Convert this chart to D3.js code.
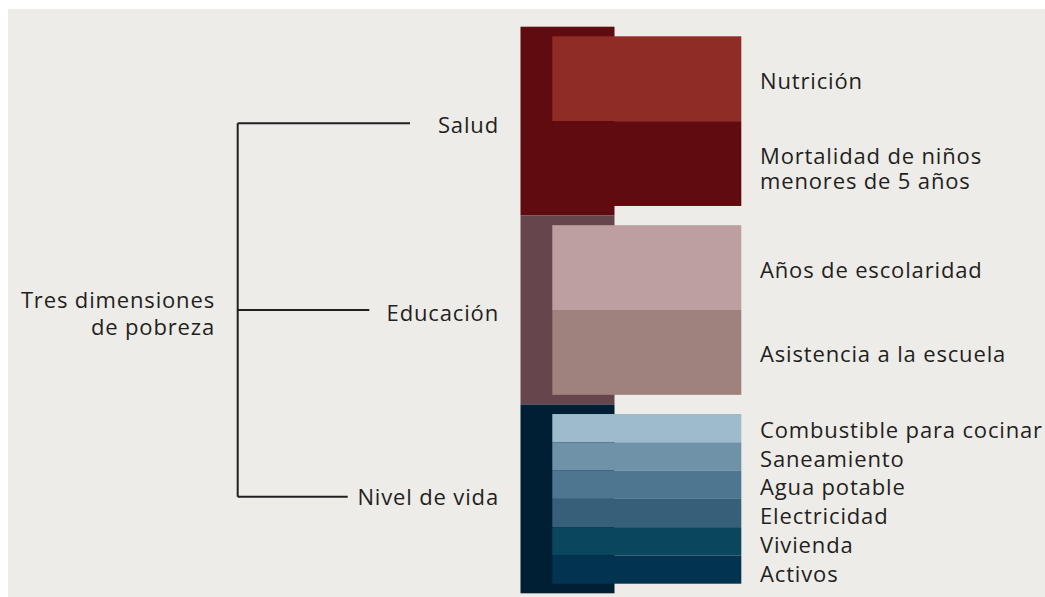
<!DOCTYPE html>
<html>
<head>
<meta charset="utf-8">
<script src="https://cdn.jsdelivr.net/npm/d3@7"></script>
<style>
  html, body { margin: 0; padding: 0; background: #ffffff; }
  svg { display: block; }
  text { font-family: "Open Sans", Lato, "Noto Sans", sans-serif; fill: #231f20; letter-spacing: 0.85px; }
</style>
</head>
<body>
<svg id="chart" width="1045" height="597"></svg>
<script>
// ---- data ----
const rootLabel = ["Tres dimensiones", "de pobreza"];
const dimensions = ["Salud", "Educación", "Nivel de vida"];
const dimensionWeights = [1/3, 1/3, 1/3];
const dimensionColors = ["#600b0f", "#66454d", "#001f35"];
const indicators = [
  "Nutrición", "Mortalidad de niños\nmenores de 5 años",
  "Años de escolaridad", "Asistencia a la escuela",
  "Combustible para cocinar", "Saneamiento", "Agua potable", "Electricidad", "Vivienda", "Activos"
];
const indicatorDimension = [0, 0, 1, 1, 2, 2, 2, 2, 2, 2];
const indicatorWeights = [1/6, 1/6, 1/6, 1/6, 1/18, 1/18, 1/18, 1/18, 1/18, 1/18];
const indicatorColors = [
  "#8f2c26", "#600b0f",
  "#bd9fa2", "#9f827d",
  "#9dbbcd", "#6f92a8", "#4f7690", "#385f79", "#0b465f", "#023350"
];

// ---- layout ----
const svg = d3.select("#chart");
const W = 1045, H = 597;
svg.append("rect").attr("x", 8).attr("y", 9).attr("width", W - 8).attr("height", H - 9).attr("fill", "#eeece9");

const y = d3.scaleLinear().domain([0, 1]).range([26.7, 593.3]);
const outerX = d3.scaleLinear().domain([0, 1]).range([520.5, 614.5]);
const innerX0 = 552.3, innerX1 = 741.3;
const inset = 9.6;

// dimension blocks
let cum = 0;
const dimData = dimensions.map((d, i) => {
  const o = { name: d, y0: cum, y1: cum + dimensionWeights[i], color: dimensionColors[i] };
  cum += dimensionWeights[i];
  return o;
});

svg.append("g").selectAll("rect").data(dimData).join("rect")
  .attr("x", outerX(0)).attr("width", outerX(1) - outerX(0))
  .attr("y", d => y(d.y0)).attr("height", d => y(d.y1) - y(d.y0))
  .attr("fill", d => d.color);

// indicators: scaled within each dimension's inset range
const indData = [];
dimData.forEach((dd, di) => {
  const inds = indicators.map((n, i) => ({ n, i })).filter(o => indicatorDimension[o.i] === di);
  const total = d3.sum(inds, o => indicatorWeights[o.i]);
  const yi = d3.scaleLinear().domain([0, total]).range([y(dd.y0) + inset, y(dd.y1) - inset]);
  let c = 0;
  inds.forEach((o, k) => {
    indData.push({ name: o.n, top: yi(c), bottom: yi(c + indicatorWeights[o.i]), color: indicatorColors[o.i], k, count: inds.length });
    c += indicatorWeights[o.i];
  });
});

svg.append("g").selectAll("rect").data(indData).join("rect")
  .attr("x", innerX0).attr("width", innerX1 - innerX0)
  .attr("y", d => d.top).attr("height", d => d.bottom - d.top)
  .attr("fill", d => d.color);

// indicator labels
const fs = 22;
const labG = svg.append("g");
indData.forEach(d => {
  const lines = d.name.split("\n");
  const mid = (d.top + d.bottom) / 2;
  const lh = 25;
  const spread = d.count > 2 ? (d.k - (d.count - 1) / 2) * 0.6 : 0;
  lines.forEach((l, k) => {
    const base = lines.length > 1 ? mid + k * lh : mid + 10;
    labG.append("text").attr("x", 760).attr("font-size", fs)
      .attr("y", base + spread + (d.count > 2 ? 1 : 0)).text(l);
  });
});

// tree
const treeX = 237.7;
const branchY = [123.3, 310, 496.7];
const branchEnd = [410, 369.3, 347.7];
const tree = svg.append("g").attr("stroke", "#231f20").attr("stroke-width", 2).attr("fill", "none");
tree.append("line").attr("x1", treeX).attr("x2", treeX).attr("y1", branchY[0]).attr("y2", branchY[2]);
dimensions.forEach((d, i) => {
  tree.append("line").attr("x1", treeX).attr("x2", branchEnd[i]).attr("y1", branchY[i]).attr("y2", branchY[i]);
});

svg.append("g").selectAll("text").data(dimensions).join("text")
  .attr("x", 499).attr("y", (d, i) => branchY[i] + [10, 10.5, 8.5][i])
  .attr("text-anchor", "end").attr("font-size", fs)
  .text(d => d);

svg.append("g").selectAll("text").data(rootLabel).join("text")
  .attr("x", 215).attr("y", (d, i) => 308 + i * 27)
  .attr("text-anchor", "end").attr("font-size", fs)
  .text(d => d);
</script>
</body>
</html>
